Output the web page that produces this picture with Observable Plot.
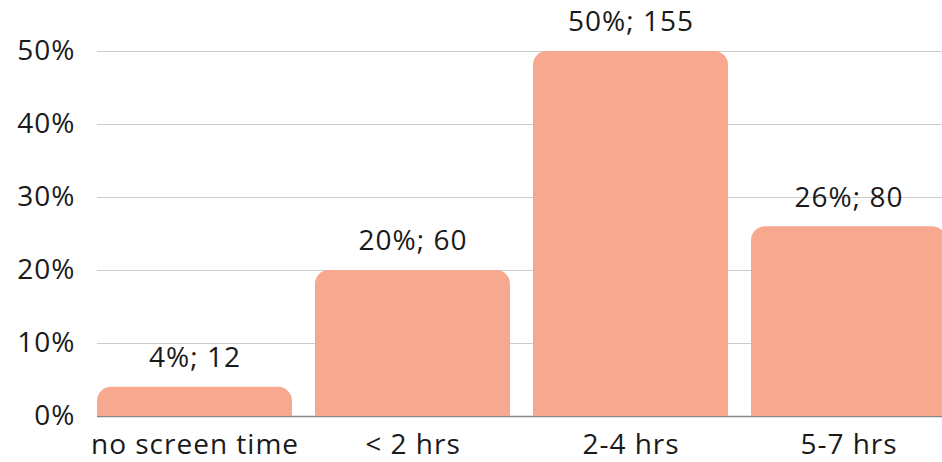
<!DOCTYPE html>
<html>
<head>
<meta charset="utf-8">
<script src="https://cdn.jsdelivr.net/npm/d3@7"></script>
<script src="https://cdn.jsdelivr.net/npm/@observablehq/plot@0.6"></script>
<style>
  html, body { margin: 0; padding: 0; background: #fff; }
  #chart svg { display: block; }
</style>
</head>
<body>
<div id="chart"></div>
<script>
// Daily screen time groups
const categories = ["no screen time", "< 2 hrs", "2-4 hrs", "5-7 hrs"];
const percents = [4, 20, 50, 26];
const counts = [12, 60, 155, 80];
const yTicks = [0, 10, 20, 30, 40, 50];

const data = categories.map((c, i) => ({ category: c, pct: percents[i], n: counts[i] }));

const W = 942, H = 462;
const font = "'Open Sans', 'Noto Sans', sans-serif";
const ink = "#1a1a1a";
const barColor = "#f7a88f";
const fs = 28;

const chart = Plot.plot({
  width: W,
  height: H,
  marginLeft: 97,
  marginRight: 0,
  marginTop: 51,
  marginBottom: 46,
  style: { fontFamily: font, color: ink, background: "#fff", overflow: "visible", letterSpacing: "1px" },
  x: { domain: categories, range: [97, 949], paddingInner: 0.105, paddingOuter: 0, align: 0, label: null },
  y: { domain: [0, 50], label: null },
  marks: [
    Plot.ruleY(yTicks.filter(t => t > 0), { stroke: "#cccccc", strokeWidth: 1 }),
    Plot.ruleY([0], { stroke: "#888888", strokeWidth: 1.5 }),
    // rounded bar, then a square-cornered body so only the top corners stay rounded
    Plot.barY(data, { x: "category", y: "pct", fill: barColor, rx: 14 }),
    Plot.barY(data, { x: "category", y: "pct", fill: barColor, insetTop: 14 }),
    Plot.text(data, {
      x: "category", y: "pct",
      text: d => `${d.pct}%; ${d.n}`,
      dy: -29, fontSize: fs, fill: ink, lineAnchor: "middle"
    }),
    Plot.axisY(yTicks, {
      tickSize: 0, tickPadding: 22, fontSize: fs, fill: ink,
      tickFormat: d => d + "%", label: null
    }),
    Plot.axisX({
      tickSize: 0, tickPadding: 18, fontSize: fs, fill: ink, label: null
    })
  ]
});
document.getElementById("chart").append(chart);
</script>
</body>
</html>
